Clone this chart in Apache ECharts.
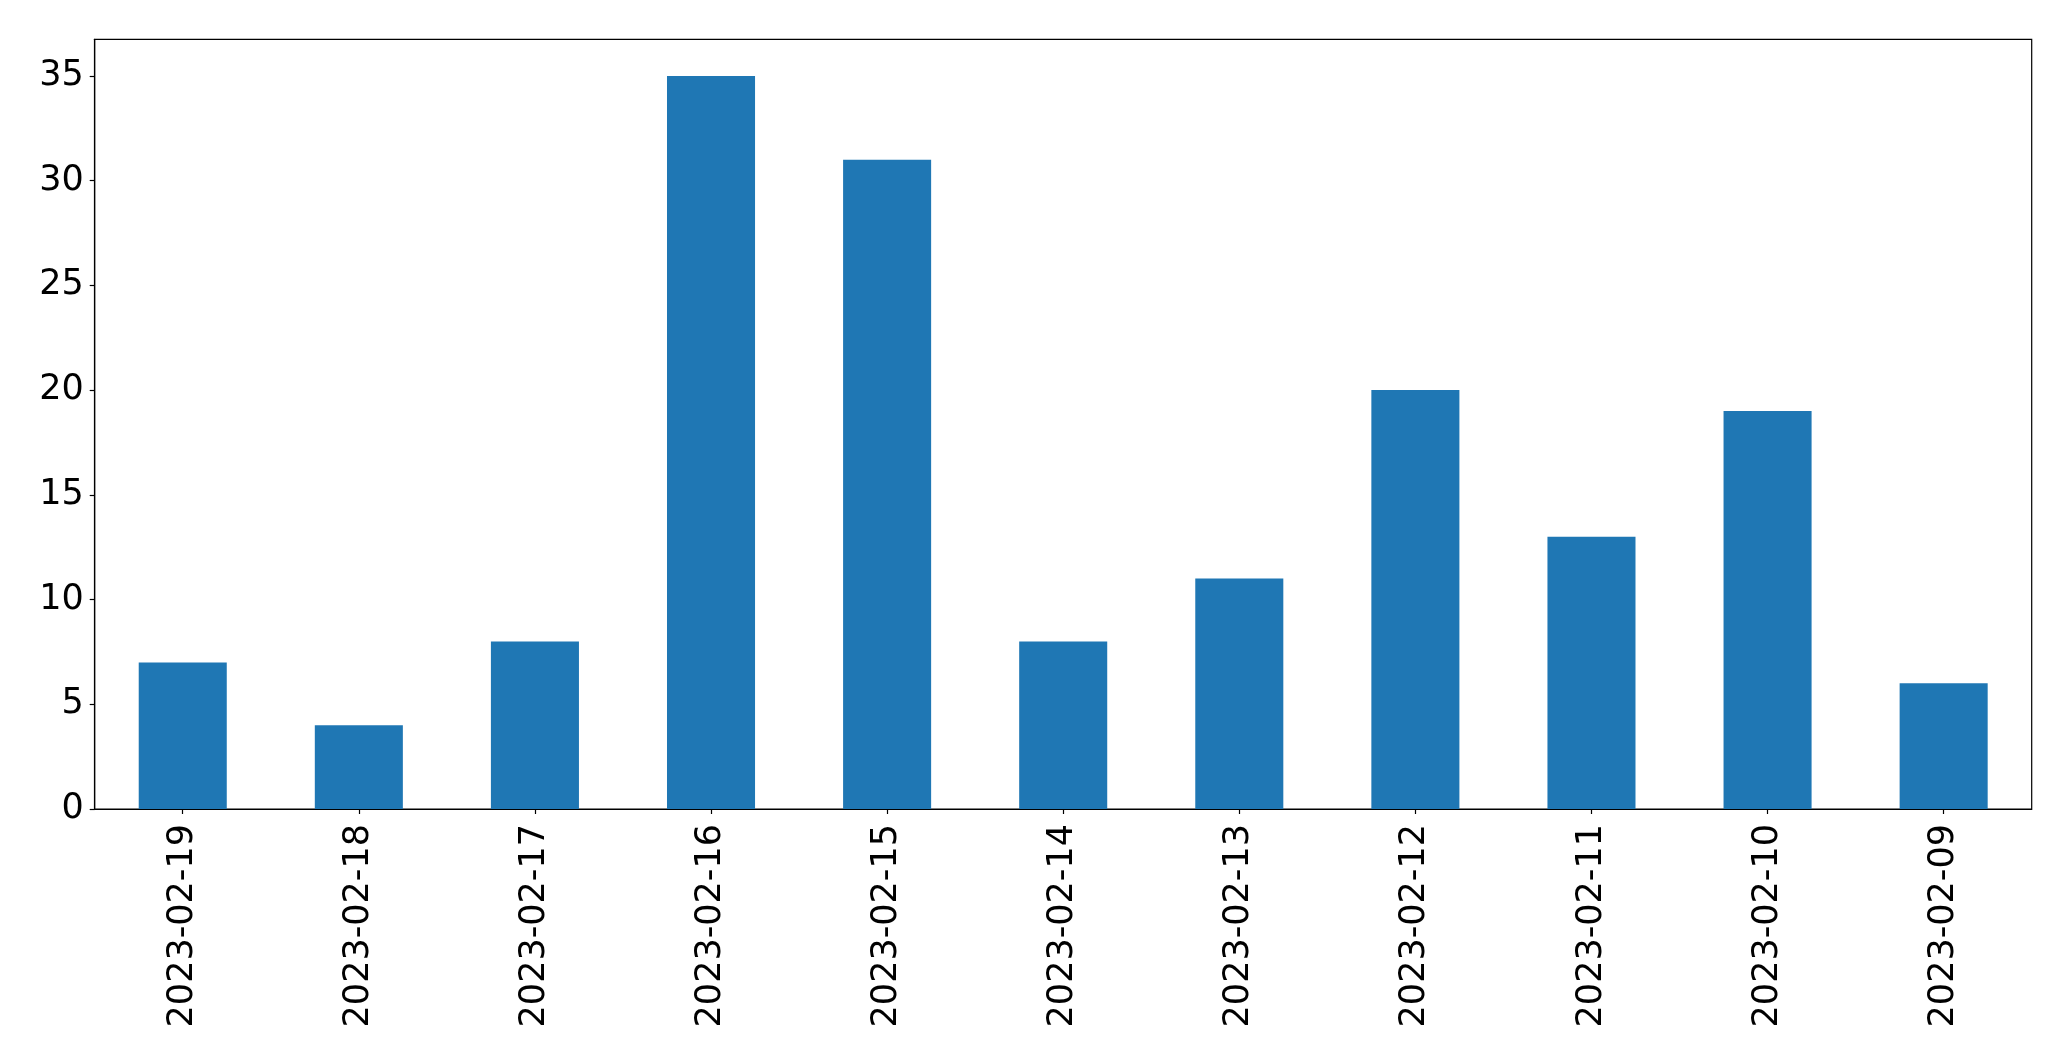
<!DOCTYPE html>
<html>
<head>
<meta charset="utf-8">
<script src="https://cdn.jsdelivr.net/npm/echarts@6/dist/echarts.min.js"></script>
<style>
html,body{margin:0;padding:0;background:#fff;}
#chart{width:2071px;height:1061px;}
</style>
</head>
<body>
<div id="chart"></div>
<script>
const categories = ['2023-02-19','2023-02-18','2023-02-17','2023-02-16','2023-02-15','2023-02-14','2023-02-13','2023-02-12','2023-02-11','2023-02-10','2023-02-09'];
const values = [7, 4, 8, 35, 31, 8, 11, 20, 13, 19, 6];
const yTicks = [0, 5, 10, 15, 20, 25, 30, 35];

const chart = echarts.init(document.getElementById('chart'), null, {renderer: 'canvas'});
const font = 'DejaVu Sans';
const yMax = Math.max(...values) * 1.05;
chart.setOption({
  animation: false,
  backgroundColor: '#ffffff',
  grid: {
    left: 94.7, right: 39.3, top: 39.3, bottom: 252,
    show: true, borderColor: '#000', borderWidth: 1.2, backgroundColor: 'transparent'
  },
  xAxis: {
    type: 'category',
    data: categories,
    boundaryGap: true,
    axisLine: {show: true, lineStyle: {color: '#000', width: 1.2}},
    axisTick: {show: true, alignWithLabel: true, length: 5, lineStyle: {color: '#000', width: 1.2}},
    axisLabel: {rotate: 90, margin: 15, color: '#000', fontFamily: font, fontSize: 35, interval: 0},
    splitLine: {show: false}
  },
  yAxis: {
    type: 'value',
    min: 0,
    max: yMax,
    axisLine: {show: true, lineStyle: {color: '#000', width: 1.2}},
    axisTick: {show: true, length: 5, customValues: yTicks, lineStyle: {color: '#000', width: 1.2}},
    axisLabel: {margin: 11, color: '#000', fontFamily: font, fontSize: 35, customValues: yTicks},
    splitLine: {show: false}
  },
  series: [{
    type: 'bar',
    data: values,
    barWidth: '50%',
    itemStyle: {color: '#1f77b4'}
  }]
});
</script>
</body>
</html>
